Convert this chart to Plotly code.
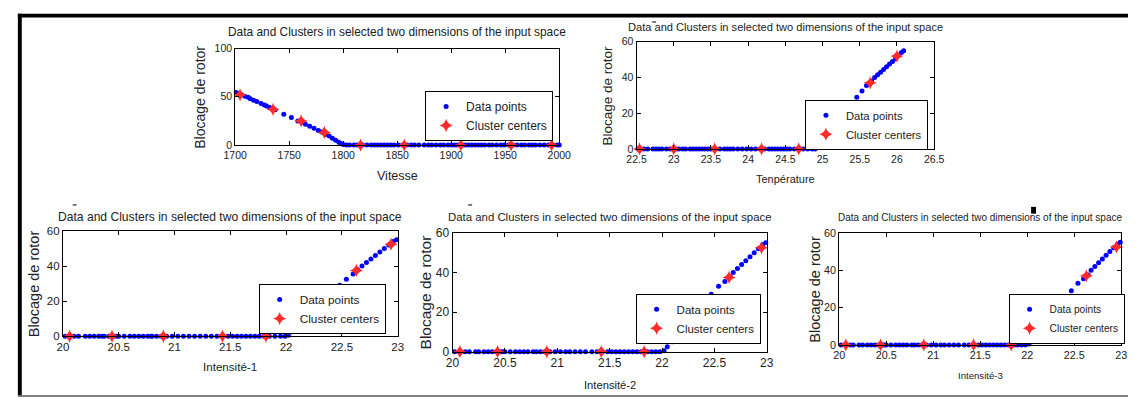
import plotly.graph_objects as go

FONT = "Liberation Sans, Arial, sans-serif"
TXT = "#222222"
W, H = 1140, 406


def px(x):
    return min(1.0, max(0.0, x / W))


def py(y):
    return min(1.0, max(0.0, 1 - y / H))


# ---------------- data ----------------
vit_x = [1701, 1703, 1706, 1709, 1712, 1714, 1717, 1720, 1724, 1727, 1729, 1732, 1734, 1737,
         1745, 1752, 1758, 1762, 1765, 1769, 1773, 1777, 1780, 1784, 1787, 1790, 1793, 1796,
         1798, 1800, 1803, 1806, 1810, 1813, 1816, 1818, 1822, 1826, 1829, 1832, 1835, 1838, 1841,
         1844, 1847, 1851, 1855, 1857, 1859, 1863, 1866, 1870, 1875, 1879, 1882, 1886, 1890, 1893,
         1897, 1900, 1903, 1906, 1909, 1911, 1913, 1916, 1919, 1922, 1925, 1928, 1931, 1935, 1938,
         1942, 1946, 1949, 1953, 1955, 1957, 1961, 1965, 1968, 1972, 1975, 1978, 1982, 1986, 1990,
         1994, 1998, 2000]
vit_y = [54.5, 53.5, 52, 50.5, 49.5, 48, 46.5, 45, 43, 41.5, 40.5, 39, 38, 36.5,
         32, 28.5, 25, 23.5, 21.5, 19.5, 17.5, 15, 13.5, 11, 9.5, 7, 5, 3,
         1.5, 0.5, 0, 0, 0, 0, 0, 0, 0, 0, 0, 0, 0, 0, 0,
         0, 0, 0, 0, 0, 0, 0, 0, 0, 0, 0, 0, 0, 0, 0,
         0, 0, 0, 0, 0, 0, 0, 0, 0, 0, 0, 0, 0, 0, 0,
         0, 0, 0, 0, 0, 0, 0, 0, 0, 0, 0, 0, 0, 0, 0,
         0, 0, 0]
vit_cx = [1704.5, 1735, 1761, 1782.5, 1816, 1856.5, 1909, 1955.5, 1993]
vit_cy = [52, 37, 25, 13, 0, 0, 0, 0, 0]

temp_x = [22.52, 22.56, 22.6, 22.65, 22.72, 22.76, 22.8, 22.84, 22.9, 22.95, 23.0, 23.03, 23.07,
          23.12, 23.16, 23.22, 23.26, 23.3, 23.34, 23.38, 23.42, 23.46, 23.5, 23.56, 23.62, 23.68,
          23.72, 23.76, 23.8, 23.86, 23.92, 23.98, 24.04, 24.1, 24.16, 24.22, 24.28, 24.32, 24.36,
          24.4, 24.44, 24.48, 24.52, 24.56, 24.62, 24.68, 24.74, 24.8, 24.86, 24.9, 24.93, 24.97,
          25.02, 25.1, 25.2, 25.3, 25.38, 25.46, 25.53, 25.59, 25.66, 25.7, 25.74, 25.78, 25.82,
          25.86, 25.9, 25.94, 25.98, 26.02, 26.06, 26.09]
temp_y = [0, 0, 0, 0, 0, 0, 0, 0, 0, 0, 0, 0, 0,
          0, 0, 0, 0, 0, 0, 0, 0, 0, 0, 0, 0, 0,
          0, 0, 0, 0, 0, 0, 0, 0, 0, 0, 0, 0, 0,
          0, 0, 0, 0, 0, 0, 0, 0, 0, 0, 0, 1.5, 3.5,
          6, 10, 15, 20, 24.5, 29, 32.5, 35.5, 38, 40, 41.5, 43, 44.5,
          46, 47.5, 49, 50.5, 52.5, 54, 55]
temp_cx = [22.54, 23.0, 23.55, 24.18, 24.68, 25.64, 26.0]
temp_cy = [0, 0, 0, 0, 0, 37, 52]

int1_x = [20.02, 20.06, 20.1, 20.14, 20.2, 20.24, 20.28, 20.32, 20.35, 20.37, 20.41, 20.45, 20.48,
          20.5, 20.55, 20.6, 20.64, 20.68, 20.72, 20.76, 20.79, 20.8, 20.84, 20.88, 20.93, 20.98,
          21.03, 21.08, 21.13, 21.18, 21.23, 21.28, 21.33, 21.38, 21.43, 21.48, 21.52, 21.56,
          21.6, 21.64, 21.68, 21.72, 21.76, 21.8, 21.85, 21.9, 21.95, 21.99, 22.02, 22.05, 22.1,
          22.18, 22.26, 22.34, 22.42, 22.48, 22.54, 22.6, 22.64, 22.68, 22.72, 22.76, 22.8,
          22.84, 22.88, 22.92, 22.96, 22.99]
int1_y = [0, 0, 0, 0, 0, 0, 0, 0, 0, 0, 0, 0, 0,
          0, 0, 0, 0, 0, 0, 0, 0, 0, 0, 0, 0, 0,
          0, 0, 0, 0, 0, 0, 0, 0, 0, 0, 0, 0,
          0, 0, 0, 0, 0, 0, 0, 0, 0, 0, 0.5, 2.5, 5,
          9.5, 14, 18.5, 23, 29, 32.5, 35.5, 38, 40, 42, 44, 46,
          48, 50, 52, 54, 55]
int1_cx = [20.06, 20.44, 20.9, 21.43, 21.82, 22.63, 22.94]
int1_cy = [0, 0, 0, 0, 0, 37.5, 52.5]

int2_x = [20.02, 20.07, 20.12, 20.16, 20.22, 20.25, 20.3, 20.34, 20.38, 20.42, 20.46, 20.48,
          20.5, 20.55, 20.6, 20.64, 20.68, 20.72, 20.77, 20.8, 20.84, 20.88, 20.93, 20.98,
          21.03, 21.08, 21.12, 21.17, 21.22, 21.27, 21.33, 21.38, 21.43, 21.48, 21.52, 21.56,
          21.6, 21.64, 21.68, 21.72, 21.76, 21.8, 21.86, 21.9, 21.94, 21.98, 22.02, 22.05,
          22.1, 22.18, 22.26, 22.34, 22.42, 22.47, 22.54, 22.6, 22.65, 22.68, 22.72, 22.76,
          22.8, 22.84, 22.88, 22.92, 22.96, 22.99]
int2_y = [0, 0, 0, 0, 0, 0, 0, 0, 0, 0, 0, 0,
          0, 0, 0, 0, 0, 0, 0, 0, 0, 0, 0, 0,
          0, 0, 0, 0, 0, 0, 0, 0, 0, 0, 0, 0,
          0, 0, 0, 0, 0, 0, 0, 0, 0, 0, 0.5, 2.5,
          5, 9.5, 14, 18.5, 23, 29, 33, 35.5, 38, 40, 42, 44,
          46, 48, 50, 52, 54, 55]
int2_cx = [20.07, 20.43, 20.9, 21.42, 21.83, 22.64, 22.95]
int2_cy = [0, 0, 0, 0, 0, 37.5, 52.5]

int3_x = [20.02, 20.08, 20.12, 20.15, 20.21, 20.25, 20.3, 20.34, 20.38, 20.42, 20.46, 20.48,
          20.5, 20.55, 20.6, 20.64, 20.68, 20.72, 20.77, 20.8, 20.84, 20.88, 20.93, 20.98,
          21.03, 21.08, 21.12, 21.17, 21.22, 21.27, 21.33, 21.38, 21.43, 21.48, 21.52, 21.56,
          21.6, 21.64, 21.68, 21.72, 21.76, 21.8, 21.86, 21.9, 21.94, 21.98, 22.02, 22.05,
          22.1, 22.18, 22.26, 22.34, 22.42, 22.47, 22.54, 22.6, 22.65, 22.68, 22.72, 22.76,
          22.8, 22.84, 22.88, 22.92, 22.96, 22.99]
int3_y = [0, 0, 0, 0, 0, 0, 0, 0, 0, 0, 0, 0,
          0, 0, 0, 0, 0, 0, 0, 0, 0, 0, 0, 0,
          0, 0, 0, 0, 0, 0, 0, 0, 0, 0, 0, 0,
          0, 0, 0, 0, 0, 0, 0, 0, 0, 0, 0.5, 2.5,
          5, 9.5, 14, 18.5, 23, 29, 33, 35.5, 37.5, 40, 42, 44,
          46, 48, 50, 52, 54, 55]
int3_cx = [20.07, 20.44, 20.9, 21.43, 21.83, 22.63, 22.95]
int3_cy = [0, 0, 0, 0, 0, 37, 52.5]

title_text = "Data and Clusters in selected two dimensions of the input space"
y_label = "Blocage de rotor"
legend_names = ["Data points", "Cluster centers"]
x_ticks_vit = [1700, 1750, 1800, 1850, 1900, 1950, 2000]
x_ticks_temp = [22.5, 23, 23.5, 24, 24.5, 25, 25.5, 26, 26.5]
x_ticks_int = [20, 20.5, 21, 21.5, 22, 22.5, 23]
y_ticks_100 = [0, 50, 100]
y_ticks_60 = [0, 20, 40, 60]

# ---------------- five panels: pixel boxes and font sizes ----------------
# fs: (title, ticks, x label, y label, legend)
panels = [
    dict(x=vit_x, y=vit_y, cx=vit_cx, cy=vit_cy, xr=[1700, 2000], xt=x_ticks_vit,
         yr=[0, 100], yt=y_ticks_100, xlab="Vitesse",
         box=(228, 559, 43, 143), title_y=26, xlab_y=175, ylab_x=192,
         fs=(11.9, 10.5, 12.5, 14, 12), leg=(422, 87)),
    dict(x=temp_x, y=temp_y, cx=temp_cx, cy=temp_cy, xr=[22.5, 26.5], xt=x_ticks_temp,
         yr=[0, 60], yt=y_ticks_60, xlab="Tenpérature",
         box=(638, 942, 36, 147), title_y=21, xlab_y=178, ylab_x=608,
         fs=(11.1, 10.5, 11, 13.5, 11.2), leg=(810, 96)),
    dict(x=int1_x, y=int1_y, cx=int1_cx, cy=int1_cy, xr=[20, 23], xt=x_ticks_int,
         yr=[0, 60], yt=y_ticks_60, xlab="Intensité-1",
         box=(52, 394, 232, 341), title_y=217, xlab_y=372, ylab_x=22,
         fs=(12.1, 11.5, 11.6, 14.5, 11.8), leg=(252, 287)),
    dict(x=int2_x, y=int2_y, cx=int2_cx, cy=int2_cy, xr=[20, 23], xt=x_ticks_int,
         yr=[0, 60], yt=y_ticks_60, xlab="Intensité-2",
         box=(450, 771, 234, 357), title_y=217, xlab_y=392, ylab_x=422,
         fs=(11.4, 12, 11.2, 15.5, 11.5), leg=(637, 297)),
    dict(x=int3_x, y=int3_y, cx=int3_cx, cy=int3_cy, xr=[20, 23], xt=x_ticks_int,
         yr=[0, 60], yt=y_ticks_60, xlab="Intensité-3",
         box=(845, 1133, 234, 350), title_y=218, xlab_y=382, ylab_x=820,
         fs=(10, 10.8, 9.6, 14.5, 10.2), leg=(1018, 297)),
]

fig = go.Figure()
annotations = []
shapes = []
layout = dict()

for i, p in enumerate(panels, start=1):
    sfx = "" if i == 1 else str(i)
    leg = "legend" if i == 1 else "legend" + str(i)
    x0, x1, y0, y1 = p["box"]
    f_title, f_tick, f_xlab, f_ylab, f_leg = p["fs"]
    fig.add_trace(go.Scatter(x=p["x"], y=p["y"], mode="markers", name=legend_names[0],
                             marker=dict(color="#0000ff", size=5, line=dict(width=0)),
                             xaxis="x" + sfx, yaxis="y" + sfx, legend=leg, cliponaxis=False))
    fig.add_trace(go.Scatter(x=p["cx"], y=p["cy"], mode="markers", name=legend_names[1],
                             marker=dict(color="#ff2a2a", size=9.5, symbol="star-diamond",
                                         line=dict(width=0)),
                             xaxis="x" + sfx, yaxis="y" + sfx, legend=leg, cliponaxis=False))
    ax_common = dict(showline=True, linecolor="#000000", linewidth=1, mirror="ticks",
                     ticks="inside", ticklen=4, tickcolor="#000000", showgrid=False,
                     zeroline=False, tickfont=dict(family=FONT, size=f_tick, color=TXT))
    layout["xaxis" + sfx] = dict(ax_common, domain=[px(x0), px(x1)], range=p["xr"], tickvals=p["xt"],
                                 ticktext=[("%g" % v) for v in p["xt"]],
                                 anchor="y" + sfx)
    layout["yaxis" + sfx] = dict(ax_common, domain=[py(y1), py(y0)], range=p["yr"], tickvals=p["yt"],
                                 anchor="x" + sfx)
    cxp = px((x0 + x1) / 2)
    annotations.append(dict(text=title_text, x=cxp, y=py(p["title_y"]), xref="paper", yref="paper",
                            xanchor="center", yanchor="middle", showarrow=False,
                            font=dict(family=FONT, size=f_title, color=TXT)))
    annotations.append(dict(text=p["xlab"], x=cxp, y=py(p["xlab_y"]), xref="paper", yref="paper",
                            xanchor="center", yanchor="middle", showarrow=False,
                            font=dict(family=FONT, size=f_xlab, color=TXT)))
    annotations.append(dict(text=y_label, x=px(p["ylab_x"]), y=py((y0 + y1) / 2), xref="paper",
                            yref="paper", xanchor="center", yanchor="middle", showarrow=False,
                            textangle=-90, font=dict(family=FONT, size=f_ylab, color=TXT)))
    lx, ly = p["leg"]
    layout[leg] = dict(x=px(lx), y=py(ly), xanchor="left", yanchor="top", xref="paper", yref="paper",
                       bgcolor="#ffffff", bordercolor="#000000", borderwidth=1,
                       font=dict(family=FONT, size=f_leg, color=TXT), tracegroupgap=0)

# frame of the figure (top bar, left bar, thin bottom rule)
shapes.append(dict(type="rect", xref="paper", yref="paper", x0=px(6), x1=1, y0=py(11), y1=py(7),
                   fillcolor="#000000", line=dict(width=0)))
shapes.append(dict(type="rect", xref="paper", yref="paper", x0=px(6), x1=px(10), y0=py(402), y1=py(7),
                   fillcolor="#000000", line=dict(width=0)))
shapes.append(dict(type="line", xref="paper", yref="paper", x0=px(6), x1=1, y0=py(403), y1=py(403),
                   line=dict(color="#555555", width=1.5)))
# small scanning artefacts over the titles
for (ax0, ax1, ay) in [(654, 658, 15.5), (62, 66, 205), (466, 470, 205)]:
    shapes.append(dict(type="line", xref="paper", yref="paper", x0=px(ax0), x1=px(ax1),
                       y0=py(ay), y1=py(ay), line=dict(color="#222222", width=1.2)))
shapes.append(dict(type="rect", xref="paper", yref="paper", x0=px(1041), x1=px(1046),
                   y0=py(214), y1=py(207), fillcolor="#000000", line=dict(width=0)))

fig.update_layout(width=W, height=H, margin=dict(l=0, r=0, t=0, b=0),
                  paper_bgcolor="#ffffff", plot_bgcolor="#ffffff",
                  annotations=annotations, shapes=shapes, **layout)

fig.write_html("out.html")
